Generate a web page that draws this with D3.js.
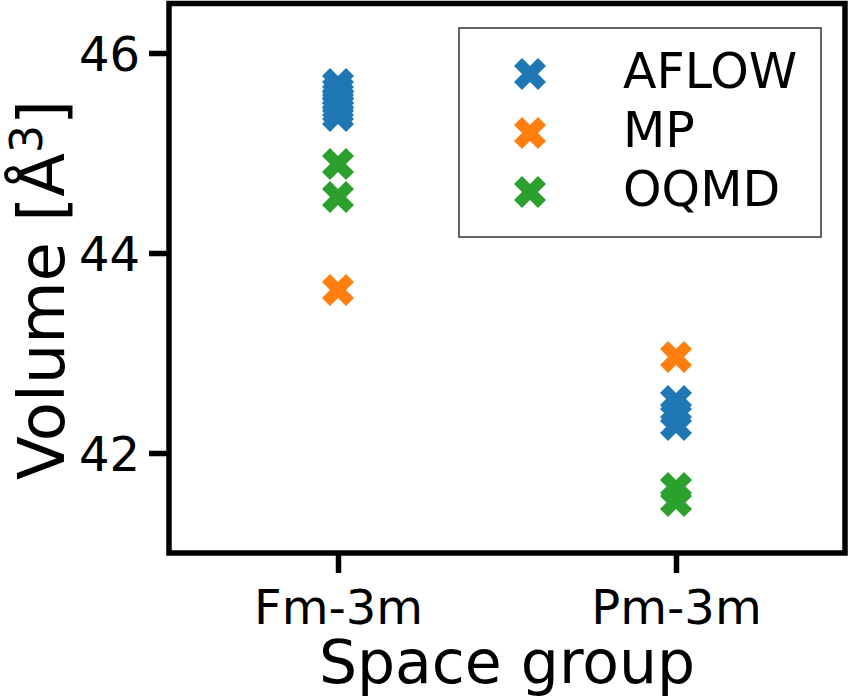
<!DOCTYPE html>
<html>
<head>
<meta charset="utf-8">
<script src="https://cdn.jsdelivr.net/npm/d3@7"></script>
<style>
  body { margin: 0; background: #fff; }
  svg text { font-family: 'DejaVu Sans', sans-serif; fill: #000; }
</style>
</head>
<body>
<div class="container"></div>
<script>
window.onload = () => {

  const groups = ['Fm-3m', 'Pm-3m'];
  const sources = ['AFLOW', 'MP', 'OQMD'];
  const colors = ['#1f77b4', '#ff7f0e', '#2ca02c'];
  const yTicks = [42, 44, 46];

  // volumes, one list per source and space group
  const aflowFm = [45.69, 45.63, 45.58, 45.54, 45.50, 45.46, 45.42, 45.37];
  const aflowPm = [42.52, 42.40, 42.28];
  const mpFm = [43.63];
  const mpPm = [42.96];
  const oqmdFm = [44.89, 44.56];
  const oqmdPm = [41.65, 41.52];

  const points = [];
  [[aflowFm, aflowPm], [mpFm, mpPm], [oqmdFm, oqmdPm]].forEach((lists, s) => {
    lists.forEach((vals, g) => {
      vals.forEach(v => points.push({ source: sources[s], group: groups[g], value: v }));
    });
  });

  const width = 850;
  const height = 697;
  const frame = { left: 169, right: 845, top: 3.5, bottom: 553 };

  const svg = d3.select('.container')
    .append('svg')
    .attr('width', width)
    .attr('height', height);

  const xScale = d3.scaleLinear()
    .domain([-0.5, 1.5])
    .range([frame.left, frame.right]);

  const yScale = d3.scaleLinear()
    .domain([41.0, 46.495])
    .range([frame.bottom, frame.top]);

  const color = d3.scaleOrdinal().domain(sources).range(colors);

  // matplotlib's filled 'X' marker
  const markerSize = 32;
  const xMarker = d3.line()([
    [-1, -2], [0, -1], [1, -2], [2, -1], [1, 0], [2, 1],
    [1, 2], [0, 1], [-1, 2], [-2, 1], [-1, 0], [-2, -1]
  ].map(p => [p[0] * markerSize / 4, p[1] * markerSize / 4])) + 'Z';

  // Axes
  const xAxis = svg.append('g')
    .attr('transform', `translate(0, ${frame.bottom})`)
    .call(d3.axisBottom(xScale)
      .tickValues([0, 1])
      .tickFormat(i => groups[i])
      .tickSize(20)
      .tickPadding(10)
      .tickSizeOuter(0));
  xAxis.select('.domain').remove();
  xAxis.selectAll('.tick line').attr('stroke', '#000').attr('stroke-width', 5.5);
  xAxis.selectAll('.tick text').attr('font-size', 48).attr('dy', '0.86em');

  const yAxis = svg.append('g')
    .attr('transform', `translate(${frame.left}, 0)`)
    .call(d3.axisLeft(yScale)
      .tickValues(yTicks)
      .tickFormat(d3.format('d'))
      .tickSize(20)
      .tickPadding(9)
      .tickSizeOuter(0));
  yAxis.select('.domain').remove();
  yAxis.selectAll('.tick line').attr('stroke', '#000').attr('stroke-width', 5.5);
  yAxis.selectAll('.tick text').attr('font-size', 48).attr('dy', '0.36em');

  // Points
  svg.selectAll('path.point')
    .data(points)
    .enter()
    .append('path')
    .attr('class', 'point')
    .attr('d', xMarker)
    .attr('transform', d => `translate(${xScale(groups.indexOf(d.group))}, ${yScale(d.value)})`)
    .attr('fill', d => color(d.source));

  // Frame
  svg.append('rect')
    .attr('x', frame.left)
    .attr('y', frame.top)
    .attr('width', frame.right - frame.left)
    .attr('height', frame.bottom - frame.top)
    .attr('fill', 'none')
    .attr('stroke', '#000')
    .attr('stroke-width', 5.5);

  // Labels
  svg.append('text')
    .attr('x', (frame.left + frame.right) / 2)
    .attr('y', 683)
    .attr('text-anchor', 'middle')
    .attr('font-size', 60)
    .text('Space group');

  const yLabel = svg.append('text')
    .attr('transform', 'translate(64, 290) rotate(-90)')
    .attr('text-anchor', 'middle')
    .attr('font-size', 64);
  yLabel.append('tspan').text('Volume [Å');
  yLabel.append('tspan').attr('font-size', 44).attr('dy', -22).text('3');
  yLabel.append('tspan').attr('dy', 22).text(']');

  // Legend
  const legend = svg.append('g').attr('id', 'legend');
  legend.append('rect')
    .attr('x', 459)
    .attr('y', 28)
    .attr('width', 362)
    .attr('height', 209)
    .attr('fill', '#fff')
    .attr('stroke', '#555')
    .attr('stroke-width', 1.8);

  const rows = legend.selectAll('g.row')
    .data(sources)
    .enter()
    .append('g')
    .attr('class', 'row')
    .attr('transform', (d, i) => `translate(530, ${74 + i * 59})`);

  rows.append('path')
    .attr('d', xMarker)
    .attr('fill', d => color(d));

  rows.append('text')
    .attr('x', 93)
    .attr('y', 14)
    .attr('font-size', 49)
    .text(d => d);
};
</script>
</body>
</html>
